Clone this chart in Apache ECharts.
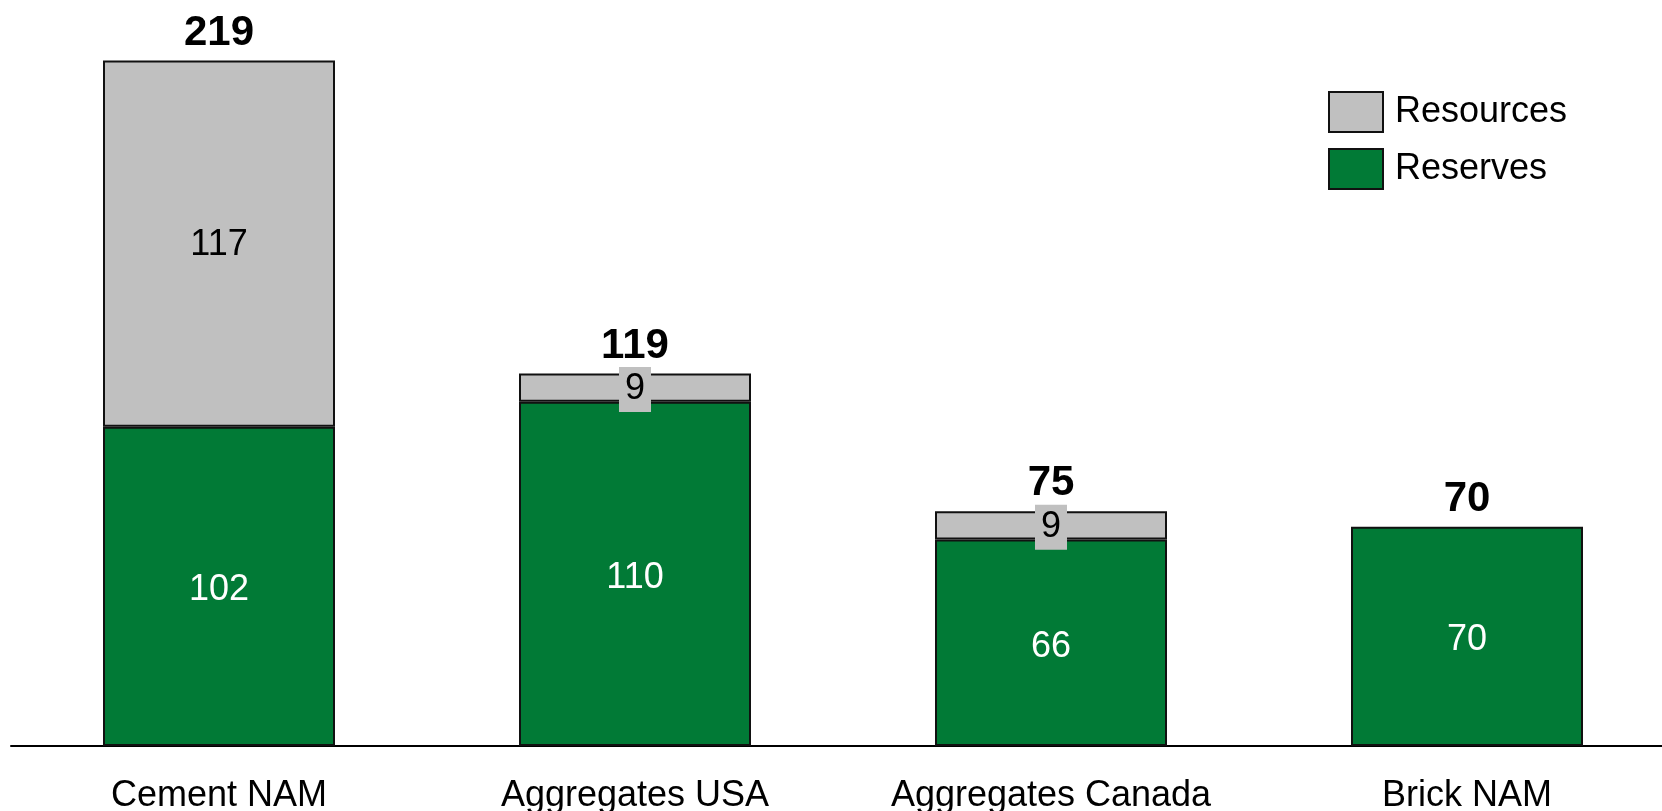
<!DOCTYPE html>
<html>
<head>
<meta charset="utf-8">
<title>Reserves and Resources</title>
<script src="https://cdn.jsdelivr.net/npm/echarts@6/dist/echarts.min.js"></script>
<style>
  html, body { margin: 0; padding: 0; background: #ffffff; }
  #chart { width: 1662px; height: 811px; }
</style>
</head>
<body>
<div id="chart"></div>
<script>
// Categories and stacked values (years of supply)
const categories = ['Cement NAM', 'Aggregates USA', 'Aggregates Canada', 'Brick NAM'];
const reserves = [102, 110, 66, 70];
const resources = [117, 9, 9, null];
const totals = categories.map((_, i) => reserves[i] + (resources[i] || 0));

const FONT = "'Liberation Sans', Arial, Helvetica, sans-serif";
const GREEN = '#017a36';
const GREY = '#c0c0c0';
const EDGE = '#111111';

const chart = echarts.init(document.getElementById('chart'), null, { renderer: 'canvas' });

chart.setOption({
  animation: false,
  backgroundColor: '#ffffff',
  textStyle: { fontFamily: FONT },
  // the plot runs slightly past the right edge so the last band is full width
  grid: { left: 11, right: -13, top: 26, bottom: 65, containLabel: false, outerBoundsMode: 'none' },
  legend: {
    data: ['Resources', 'Reserves'],
    orient: 'vertical',
    left: 1328,
    top: 91,
    padding: 0,
    itemWidth: 54,
    itemHeight: 40,
    itemGap: 15,
    icon: 'rect',
    textStyle: { fontSize: 36, color: '#000', fontFamily: FONT, padding: [0, 0, 0, 7] }
  },
  xAxis: {
    type: 'category',
    data: categories,
    axisTick: { show: false },
    axisLine: { lineStyle: { color: '#000', width: 2 } },
    axisLabel: { color: '#000', fontSize: 36, fontFamily: FONT, margin: 32, interval: 0 }
  },
  yAxis: {
    type: 'value',
    min: 0,
    max: 230,
    show: false,
    splitLine: { show: false }
  },
  series: [
    {
      name: 'Reserves',
      type: 'bar',
      stack: 'total',
      barWidth: 232,
      data: reserves,
      itemStyle: { color: GREEN, borderColor: EDGE, borderWidth: 2 },
      label: {
        show: true,
        position: 'inside',
        offset: [0, 4],
        color: '#ffffff',
        fontSize: 36,
        fontFamily: FONT
      }
    },
    {
      name: 'Resources',
      type: 'bar',
      stack: 'total',
      barWidth: 232,
      data: resources,
      itemStyle: { color: GREY, borderColor: EDGE, borderWidth: 2 },
      label: {
        show: true,
        position: 'inside',
        offset: [0, 2],
        color: '#000000',
        fontSize: 36,
        fontFamily: FONT,
        backgroundColor: GREY,
        padding: [7, 6, 2, 6],
        lineHeight: 36
      }
    },
    {
      // invisible carrier for the bold total above each stack
      name: 'Total',
      type: 'line',
      data: totals,
      symbol: 'circle',
      symbolSize: 1,
      itemStyle: { color: 'rgba(0,0,0,0)' },
      lineStyle: { opacity: 0 },
      silent: true,
      z: 10,
      label: {
        show: true,
        position: 'top',
        distance: 6,
        color: '#000000',
        fontSize: 42,
        fontWeight: 'bold',
        fontFamily: FONT,
        lineHeight: 42
      }
    }
  ]
});
</script>
</body>
</html>
